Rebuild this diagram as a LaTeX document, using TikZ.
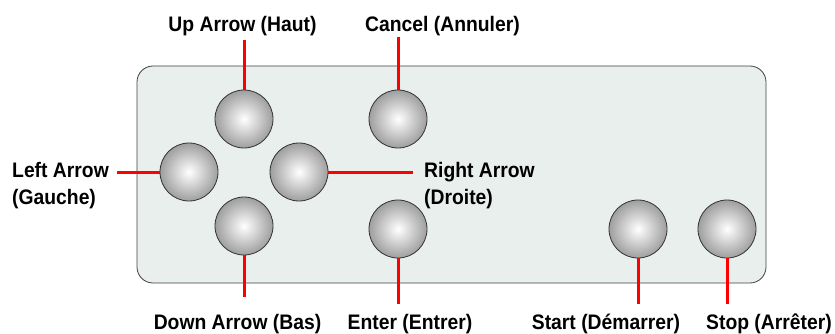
\documentclass[tikz,border=0pt]{standalone}
\usepackage{fontspec}
\setmainfont{Liberation Sans}[FakeStretch=0.92]
\begin{document}
\begin{tikzpicture}[x=1pt,y=-1pt,
  panel/.style={draw=black!75, line width=0.8pt, fill=panelgray, rounded corners=16pt},
  btn/.style={circle, minimum size=58pt, inner sep=0pt, draw=black!80, line width=0.8pt, inner color=white, outer color=black!38},
  lbl/.style={font=\bfseries\fontsize{21}{27}\selectfont, inner sep=0pt, text=black},
  redline/.style={draw=red, line width=3pt}]
\definecolor{panelgray}{HTML}{E9EFED}
\useasboundingbox (0,0) rectangle (835,334);
\path[panel] (137,66) rectangle (766,283);
% buttons
\node[btn] (up) at (244,119) {};
\node[btn] (cancel) at (398,119) {};
\node[btn] (left) at (189,172) {};
\node[btn] (right) at (299,172) {};
\node[btn] (down) at (244,226) {};
\node[btn] (enter) at (398,229) {};
\node[btn] (start) at (638,229) {};
\node[btn] (stop) at (727,229) {};
% labels
\node[lbl, anchor=base] (lup) at (242.5,32) {Up Arrow (Haut)};
\node[lbl, anchor=base] (lcancel) at (442.5,32) {Cancel (Annuler)};
\node[lbl, align=left, anchor=west] (lleft) at (12,186) {Left Arrow\\(Gauche)};
\node[lbl, align=left, anchor=west] (lright) at (424,186) {Right Arrow\\(Droite)};
\node[lbl, anchor=base] (ldown) at (237.5,329.5) {Down Arrow (Bas)};
\node[lbl, anchor=base] (lenter) at (410,329.5) {Enter (Entrer)};
\node[lbl, anchor=base] (lstart) at (606,329.5) {Start (Démarrer)};
\node[lbl, anchor=base] (lstop) at (769,329.5) {Stop (Arrêter)};
% connector free ends
\coordinate (eup) at (244,40);
\coordinate (ecancel) at (398,37);
\coordinate (eleft) at (117,172);
\coordinate (eright) at (413,172);
\coordinate (edown) at (244,297);
\coordinate (eenter) at (398,304);
\coordinate (estart) at (638,304);
\coordinate (estop) at (727,304);
\draw[redline] (up.north) -- (eup);
\draw[redline] (cancel.north) -- (ecancel);
\draw[redline] (left.west) -- (eleft);
\draw[redline] (right.east) -- (eright);
\draw[redline] (down.south) -- (edown);
\draw[redline] (enter.south) -- (eenter);
\draw[redline] (start.south) -- (estart);
\draw[redline] (stop.south) -- (estop);
\end{tikzpicture}
\end{document}
